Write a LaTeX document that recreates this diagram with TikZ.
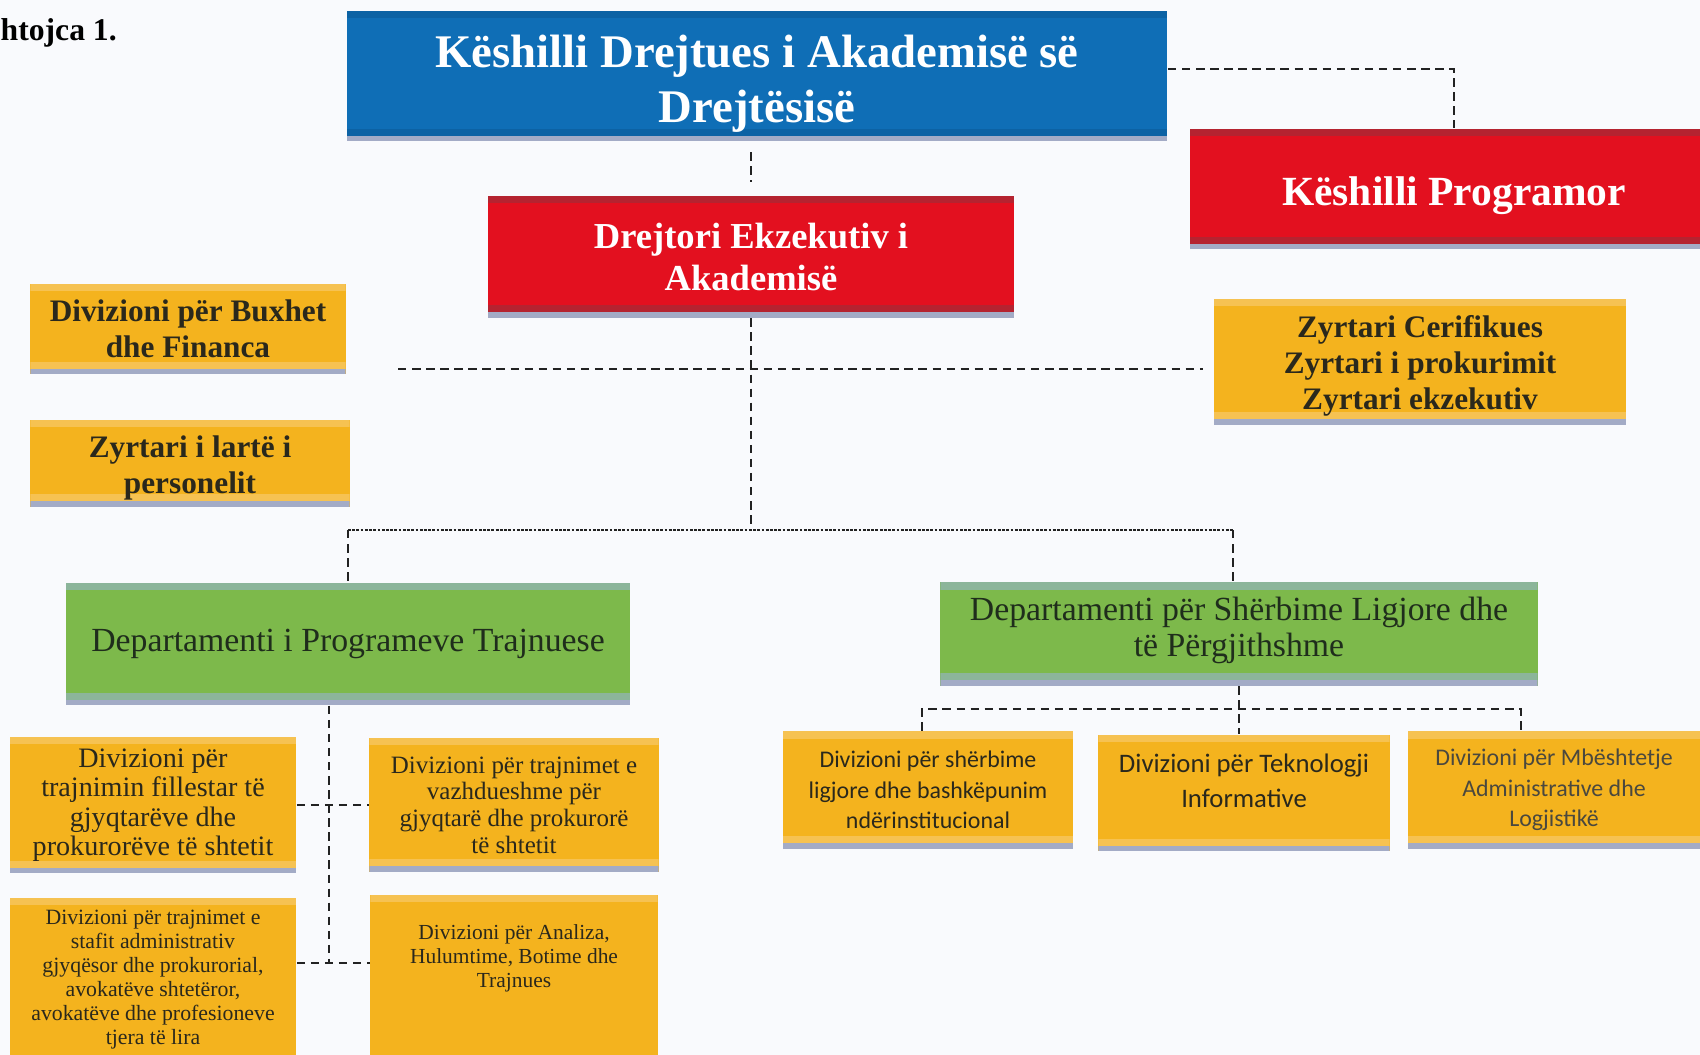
\documentclass[tikz,border=0pt]{standalone}
\usepackage{fontspec}
\setmainfont{Liberation Serif}
\newfontfamily\calfont{Carlito}
\usepackage{xcolor}
\usepackage{tikz}
\usetikzlibrary{shapes.geometric, arrows}
\definecolor{paper}{HTML}{F9FAFD}
\definecolor{boardblue}{HTML}{0F6EB6}
\definecolor{boardband}{HTML}{0C62A4}
\definecolor{redfill}{HTML}{E3101F}
\definecolor{redband}{HTML}{B52330}
\definecolor{yellowfill}{HTML}{F4B31E}
\definecolor{yellowband}{HTML}{F6C252}
\definecolor{greenfill}{HTML}{7DB94B}
\definecolor{greenband}{HTML}{8CB59A}
\definecolor{stripe}{HTML}{A3ABC6}
\definecolor{darktext}{HTML}{2A281C}
\definecolor{greentext}{HTML}{1F2D1C}
\definecolor{linegray}{HTML}{222222}
\tikzstyle{banded} = [path picture={
  \fill[#1] (path picture bounding box.north west) rectangle ([yshift=-2pt]path picture bounding box.north east);
  \fill[#1] ([yshift=1.5pt]path picture bounding box.south west) rectangle ([yshift=3.5pt]path picture bounding box.south east);
  \fill[stripe] (path picture bounding box.south west) rectangle ([yshift=1.5pt]path picture bounding box.south east);}]
\tikzstyle{board} = [rectangle, inner sep=0pt, align=center, text centered, fill=boardblue, banded=boardband, text=white, font=\fontsize{13.3}{15.4}\selectfont\bfseries]
\tikzstyle{council} = [rectangle, inner sep=0pt, align=center, text centered, fill=redfill, banded=redband, text=white, font=\bfseries]
\tikzstyle{office} = [rectangle, inner sep=0pt, align=center, text centered, fill=yellowfill, banded=yellowband, text=darktext, font=\fontsize{8.9}{10.2}\selectfont\bfseries]
\tikzstyle{dept} = [rectangle, inner sep=0pt, align=center, text centered, fill=greenfill, banded=greenband, text=greentext, font=\fontsize{9.6}{10.2}\selectfont]
\tikzstyle{unit} = [rectangle, inner sep=0pt, align=center, text centered, fill=yellowfill, banded=yellowband, text=darktext]
\tikzstyle{link} = [draw=linegray, line width=0.45pt, dash pattern=on 2.4pt off 1.6pt]
\tikzstyle{dots} = [draw=linegray, line width=0.5pt, dash pattern=on 0.8pt off 0.4pt]

\begin{document}
\begin{tikzpicture}[x=0.01cm, y=-0.01cm]

   \useasboundingbox (0,0) rectangle (1700,1055);
   \fill[paper] (0,0) rectangle (1700,1055);

   \node (title) [anchor=base west, inner sep=0pt, font=\fontsize{9}{10}\selectfont\bfseries] at (0,41) {htojca 1.};

   \node (board) [board, minimum width=8.2cm, minimum height=1.3cm, text height=29pt] at (757,76) {Këshilli Drejtues i Akademisë së\\Drejtësisë};
   \node (exec) [council, minimum width=5.26cm, minimum height=1.21cm, font=\fontsize{10.4}{12.2}\selectfont\bfseries] at (751,257) {Drejtori Ekzekutiv i\\Akademisë};
   \node (prog) [council, minimum width=5.28cm, minimum height=1.2cm, text height=12pt, font=\fontsize{11.8}{13}\selectfont\bfseries] at (1454,189) {Këshilli Programor};

   \node (staff) [office, minimum width=4.12cm, minimum height=1.25cm, text height=28.8pt] at (1420,362) {Zyrtari Cerifikues\\Zyrtari i prokurimit\\Zyrtari ekzekutiv};
   \node (budget) [office, minimum width=3.15cm, minimum height=0.9cm] at (188,329) {Divizioni për Buxhet\\dhe Financa};
   \node (hr) [office, below of=budget, node distance=1.34cm, xshift=0.02cm, minimum width=3.19cm, minimum height=0.87cm, text height=19.4pt] {Zyrtari i lartë i\\personelit};

   \node (deptL) [dept, minimum width=5.64cm, minimum height=1.22cm] at (348,644) {Departamenti i Programeve Trajnuese};
   \node (deptR) [dept, minimum width=5.97cm, minimum height=1.03cm, text depth=4pt] at (1239,634) {Departamenti për Shërbime Ligjore dhe\\të Përgjithshme};

   \node (initL) [unit, minimum width=2.86cm, minimum height=1.36cm, font=\fontsize{8}{8.4}\selectfont] at (153,805) {Divizioni për\\trajnimin fillestar të\\gjyqtarëve dhe\\prokurorëve të shtetit};
   \node (contC) [unit, minimum width=2.89cm, minimum height=1.33cm, font=\fontsize{7.1}{7.6}\selectfont] at (514,805) {Divizioni për trajnimet e\\vazhdueshme për\\gjyqtarë dhe prokurorë\\të shtetit};
   \node (staffT) [unit, below of=initL, node distance=1.83cm, minimum width=2.86cm, minimum height=1.8cm, text depth=6.3pt, font=\fontsize{6.2}{6.8}\selectfont] {Divizioni për trajnimet e\\stafit administrativ\\gjyqësor dhe prokurorial,\\avokatëve shtetëror,\\avokatëve dhe profesioneve\\tjera të lira};
   \node (analiza) [unit, below of=contC, node distance=1.8cm, minimum width=2.87cm, minimum height=1.8cm, text depth=16.6pt, font=\fontsize{6.1}{6.8}\selectfont] {Divizioni për Analiza,\\Hulumtime, Botime dhe\\Trajnues};

   \node (legalA) [unit, minimum width=2.9cm, minimum height=1.17cm, font=\calfont\fontsize{6.8}{8.65}\selectfont] at (928,790) {Divizioni për shërbime\\ligjore dhe bashkëpunim\\ndërinstitucional};
   \node (techB) [unit, minimum width=2.91cm, minimum height=1.16cm, text depth=6.8pt, font=\calfont\fontsize{7.6}{9.9}\selectfont] at (1244,793) {Divizioni për Teknologji\\Informative};
   \node (admC) [unit, minimum width=2.92cm, minimum height=1.17cm, text=darktext!85, font=\calfont\fontsize{6.8}{8.65}\selectfont] at (1554,790) {Divizioni për Mbështetje\\Administrative dhe\\Logjistikë};

   \coordinate (bus) at (751,530);
   \coordinate (stafftip) at (398,369);
   \coordinate (forkL) at (329,963);
   \coordinate (forkRa) at (922,709);
   \coordinate (forkRc) at (1521,709);

   \draw [link] ([yshift=2pt]board.east) -| (prog.north);
   \draw [link, shorten <=3pt, shorten >=4pt] (exec.north |- board.south) -- (exec.north);
   \draw [link] (exec.south) -- (bus);
   \draw [link, shorten >=3pt] (stafftip) -- (staff.west |- stafftip);
   \draw [dots] (deptL.north |- bus) -- ([xshift=-0.06cm]deptR.north |- bus);
   \draw [link] (deptL.north |- bus) -- (deptL.north);
   \draw [link] ([xshift=-0.06cm]deptR.north |- bus) -- ([xshift=-0.06cm]deptR.north);
   \draw [link] (deptL.south -| forkL) -- (forkL);
   \draw [link] (initL.east) -- (contC.west);
   \draw [link] (staffT.east |- forkL) -- (analiza.west |- forkL);
   \draw [link] (deptR.south) -- (deptR.south |- techB.north);
   \draw [link] (legalA.north -| forkRa) -- (forkRa) -- (forkRc) -- (admC.north -| forkRc);
   \end{tikzpicture}
\end{document}
